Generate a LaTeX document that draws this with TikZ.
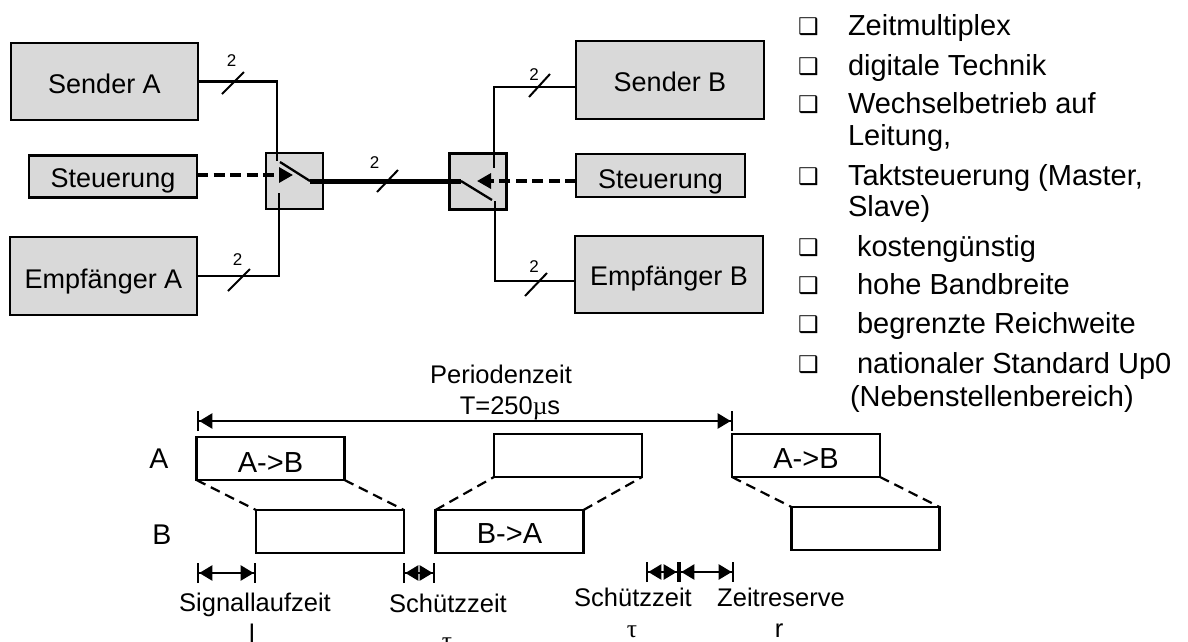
\documentclass[tikz,border=0pt]{standalone}
\usepackage{fontspec}
\setmainfont{Liberation Sans}
\newfontfamily\symfont{Liberation Serif}
\newfontfamily\bulfont[BoldFont={DejaVu Sans Bold}]{DejaVu Sans}
\usetikzlibrary{arrows.meta,calc}
\definecolor{boxgrey}{HTML}{D9D9D9}
\definecolor{ink}{HTML}{000000}
\tikzset{
  x=1pt,y=-1pt,
  every node/.style={inner sep=0pt,outer sep=0pt,text=ink},
  bigbox/.style={draw=ink,line width=2.3pt,fill=boxgrey,font=\fontsize{27}{30}\selectfont,text depth=0pt,align=center},
  smallbox/.style={bigbox,font=\fontsize{27}{30}\selectfont},
  switchbox/.style={draw=ink,line width=2.3pt,fill=boxgrey,minimum width=57pt,minimum height=56pt},
  bar/.style={draw=ink,line width=2.3pt,fill=white,minimum width=148pt,minimum height=43pt,font=\fontsize{29}{32}\selectfont,text depth=0pt},
  wire/.style={draw=ink,line width=2.3pt},
  busline/.style={draw=ink,line width=5pt},
  ctrl/.style={draw=ink,line width=3.2pt,dash pattern=on 11pt off 5.5pt,-{Triangle[length=14pt,width=15pt]}},
  slash/.style={draw=ink,line width=2pt},
  cnt/.style={font=\fontsize{17}{19}\selectfont},
  drop/.style={draw=ink,line width=2.2pt,dash pattern=on 10pt off 6pt},
  dim/.style={draw=ink,line width=2.3pt,{Bar[width=20pt]Triangle[length=13pt,width=15pt]}-{Triangle[length=13pt,width=15pt]Bar[width=20pt]}},
  lbl/.style={font=\fontsize{25.5}{28}\selectfont,anchor=base},
  rowlbl/.style={font=\fontsize{28.5}{30}\selectfont,anchor=base},
  item/.style={font=\fontsize{29}{32}\selectfont,anchor=base west},
  bul/.style={font=\bulfont\bfseries\fontsize{23}{25}\selectfont,anchor=base west},
}
\begin{document}
\begin{tikzpicture}
\useasboundingbox (0,0) rectangle (1188,641);
% boxes
\node[bigbox,minimum width=187pt,minimum height=77pt,text height=23pt] (senderA) at (104.5,81.5) {Sender A};
\node[smallbox,minimum width=168pt,minimum height=42pt,text height=21pt] (steuerA) at (113,176.5) {Steuerung};
\node[bigbox,minimum width=187pt,minimum height=78pt,text height=24pt] (empfA) at (103.5,276) {Empfänger A};
\node[bigbox,minimum width=188pt,minimum height=78pt,text height=22pt] (senderB) at (670,80) {Sender B};
\node[smallbox,minimum width=169pt,minimum height=43pt,text height=25pt] (steuerB) at (660.5,175.5) {Steuerung};
\node[bigbox,minimum width=188pt,minimum height=77pt,text height=21pt] (empfB) at (669,274.5) {Empfänger B};
\node[switchbox] (swA) at (294.5,181) {};
\node[switchbox] (swB) at (478,181.5) {};
% switch contacts
\coordinate (aTop) at (277,161);
\coordinate (aBot) at (279,193);
\coordinate (aArmTop) at (280,162);
\coordinate (aPivot) at (310,181);
\coordinate (aTip) at (293,175);
\coordinate (bTop) at (494,168);
\coordinate (bBot) at (495,201);
\coordinate (bArmBot) at (492,200);
\coordinate (bPivot) at (461,181);
\coordinate (bTip) at (477,181);
% wires
\draw[wire] (senderA.east) -| (aTop);
\draw[wire] (empfA.east) -| (aBot);
\draw[wire] (senderB.west |- 0,87) -| (bTop);
\draw[wire] (empfB.west |- 0,281) -| (bBot);
\draw[wire] (aArmTop) -- (aPivot);
\draw[wire] (bPivot) -- (bArmBot);
\draw[busline] (aPivot) -- (bPivot);
\draw[ctrl] (steuerA.east |- aTip) -- (aTip);
\draw[ctrl] (steuerB.west |- bTip) -- (bTip);
% bus slashes
\coordinate (s1a) at (222,94); \coordinate (s1b) at (244,72);
\coordinate (s2a) at (228,291); \coordinate (s2b) at (250,269);
\coordinate (s3a) at (377,192); \coordinate (s3b) at (398,170);
\coordinate (s4a) at (529,97); \coordinate (s4b) at (550,74);
\coordinate (s5a) at (525,296); \coordinate (s5b) at (547,273);
\foreach \n in {1,...,5} \draw[slash] (s\n a) -- (s\n b);
\node[cnt] (c1) at (231.5,61) {2};
\node[cnt] (c2) at (237.5,260) {2};
\node[cnt] (c3) at (374.5,163) {2};
\node[cnt] (c4) at (534,75) {2};
\node[cnt] (c5) at (534,267) {2};
% bullet list
\foreach \y/\t/\x in {35/Zeitmultiplex/848,75/digitale Technik/848,113/Wechselbetrieb auf/848,145/{Leitung,}/848,185/{Taktsteuerung (Master,}/848,216/{Slave)}/848,256/kostengünstig/857,294/hohe Bandbreite/857,333/begrenzte Reichweite/857,373/nationaler Standard Up0/857,406/(Nebenstellenbereich)/850}
  \node[item] at (\x,\y) {\t};
\foreach \y in {35,75,113,185,256,294,333,373}
  \node[bul] at (798,\y-1) {❑};
% time diagram
\coordinate (pL) at (197,421);
\coordinate (pR) at (733,421);
\draw[dim] (pL) -- (pR);
\node[lbl] (period) at (501,383) {Periodenzeit};
\node[lbl] (tval) at (510,414) {T=250{\symfont µ}s};
\node[rowlbl] (rowA) at (159,468) {A};
\node[rowlbl] (rowB) at (162,544) {B};
\node[bar,text height=27pt] (a1) at (270.5,458.5) {A->B};
\node[bar] (a2) at (568,455.5) {};
\node[bar,text height=25pt] (a3) at (806,455.5) {A->B};
\node[bar] (b1) at (330,531.5) {};
\node[bar,text height=23pt] (b2) at (509.5,531.5) {B->A};
\node[bar] (b3) at (865.5,528.5) {};
\draw[drop] (a1.south west) -- (b1.north west);
\draw[drop] (a1.south east) -- (b1.north east);
\draw[drop] (b2.north west) -- (a2.south west);
\draw[drop] (b2.north east) -- (a2.south east);
\draw[drop] (a3.south west) -- (b3.north west);
\draw[drop] (a3.south east) -- (b3.north east);
% time spans
\coordinate (d1) at (197,573); \coordinate (d2) at (256,573);
\coordinate (d3) at (403,573); \coordinate (d4) at (435,573);
\coordinate (d5) at (646,572); \coordinate (d6) at (679,572); \coordinate (d7) at (734,572);
\draw[dim] (d1) -- (d2);
\draw[dim] (d3) -- (d4);
\draw[dim] (d5) -- (d6);
\draw[dim] (d6) -- (d7);
\node[lbl] (t1) at (255,611) {Signallaufzeit};
\node[lbl] (t2) at (448,612) {Schützzeit};
\node[lbl] (t3) at (633,606) {Schützzeit};
\node[lbl] (t4) at (781,606) {Zeitreserve};
\node[lbl] (v1) at (252,642) {l};
\node[lbl,font=\symfont\fontsize{25.5}{28}\selectfont] (v2) at (447,649) {τ};
\node[lbl,font=\symfont\fontsize{25.5}{28}\selectfont] (v3) at (632,637) {τ};
\node[lbl] (v4) at (779,637) {r};
\end{tikzpicture}
\end{document}
